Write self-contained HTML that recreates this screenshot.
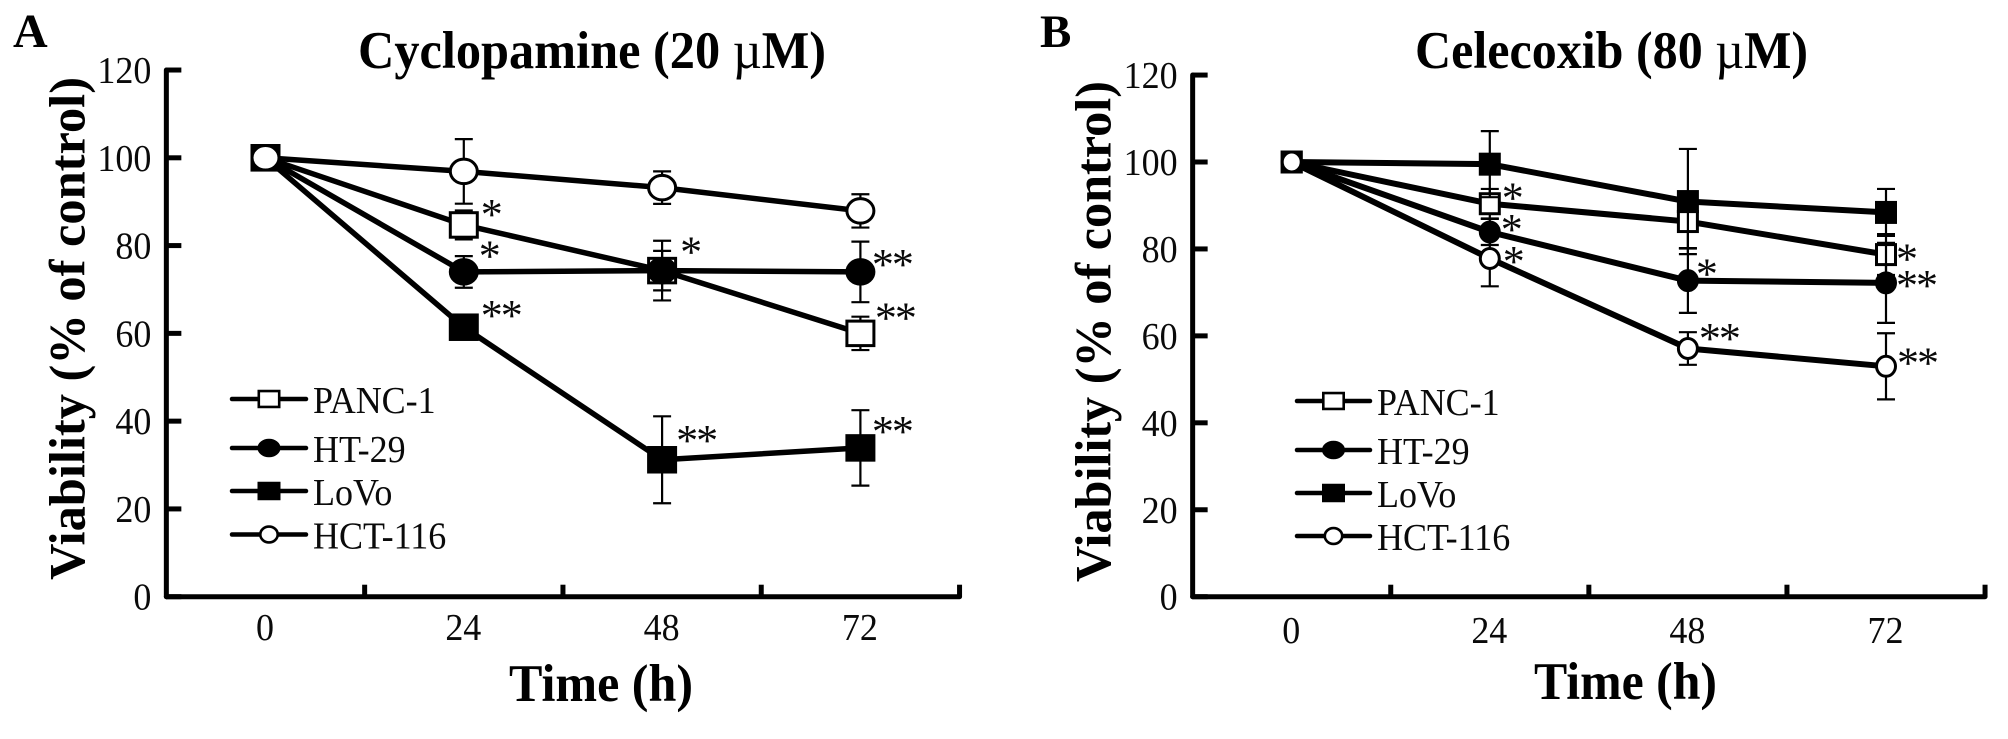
<!DOCTYPE html>
<html lang="en">
<head>
<meta charset="utf-8">
<title>Cell viability: Cyclopamine and Celecoxib</title>
<style>
html,body{margin:0;padding:0;background:#fff;width:2008px;height:739px;overflow:hidden}
svg{display:block}
text{font-family:"Liberation Serif","Noto Serif CJK SC",serif;fill:#0a0a0a}
.b{font-weight:700;fill:#000}
</style>
</head>
<body>
<svg id="figure" xmlns="http://www.w3.org/2000/svg" width="2008" height="739" viewBox="0 0 2008 739">
  <rect width="2008" height="739" fill="#fff"/>
  <text class="b" x="13" y="47" font-size="48">A</text>
  <text class="b" x="1040" y="47" font-size="47">B</text>
  <text class="b" transform="translate(358 68) scale(1 1.07)" font-size="49" textLength="468" lengthAdjust="spacingAndGlyphs">Cyclopamine (20 <tspan font-weight="400">µ</tspan>M)</text>
  <text class="b" transform="translate(1415 68) scale(1 1.07)" font-size="49" textLength="393" lengthAdjust="spacingAndGlyphs">Celecoxib (80 <tspan font-weight="400">µ</tspan>M)</text>
  <text class="b" transform="translate(509 701) scale(1 1.08)" font-size="49" textLength="184" lengthAdjust="spacingAndGlyphs">Time (h)</text>
  <text class="b" transform="translate(1534 699) scale(1 1.08)" font-size="49" textLength="183" lengthAdjust="spacingAndGlyphs">Time (h)</text>
  <text class="b" transform="translate(84.5 580) rotate(-90)" font-size="51" textLength="503" lengthAdjust="spacingAndGlyphs">Viability (% of control)</text>
  <text class="b" transform="translate(1110.5 582) rotate(-90)" font-size="51" textLength="501" lengthAdjust="spacingAndGlyphs">Viability (% of control)</text>
</svg>
<script>
// ---- chart data ----
const timePoints = [0, 24, 48, 72];
const timeTickLabels = ['0', '24', '48', '72'];
const timeAxisTicks = [-12, 12, 36, 60, 84];
const viabilityTicks = [0, 20, 40, 60, 80, 100, 120];
const seriesNames = ['PANC-1', 'HT-29', 'LoVo', 'HCT-116'];

const panelA_PANC1 = [100, 84.7, 74.3, 60.0];
const panelA_HT29 = [100, 74.0, 74.3, 74.0];
const panelA_LoVo = [100, 61.4, 31.2, 33.9];
const panelA_HCT116 = [100, 96.9, 93.2, 87.9];
const panelA_PANC1_err = [0, 3.3, 4.5, 3.8];
const panelA_HT29_err = [0, 3.6, 6.8, 6.9];
const panelA_LoVo_err = [0, 1.0, 9.9, 8.6];
const panelA_HCT116_err = [0, 7.35, 3.7, 3.8];

const panelB_PANC1 = [100, 90.4, 86.3, 78.7];
const panelB_HT29 = [100, 83.9, 72.7, 72.2];
const panelB_LoVo = [100, 99.5, 90.9, 88.4];
const panelB_HCT116 = [100, 77.8, 57.1, 53.0];
const panelB_PANC1_err = [0, 3.4, 6.1, 4.7];
const panelB_HT29_err = [0, 3.0, 7.4, 9.2];
const panelB_LoVo_err = [0, 7.6, 12.1, 5.4];
const panelB_HCT116_err = [0, 6.4, 3.75, 7.6];

// ---- drawing ----
const NS = 'http://www.w3.org/2000/svg';
const root = document.getElementById('figure');
function mk(parent, tag, attrs) {
  const el = document.createElementNS(NS, tag);
  for (const k in attrs) el.setAttribute(k, attrs[k]);
  parent.appendChild(el);
  return el;
}
function seg(parent, x1, y1, x2, y2, w, cap, name) {
  const el = mk(parent, 'line', {x1: x1, y1: y1, x2: x2, y2: y2, stroke: '#000', 'stroke-width': w, 'stroke-linecap': cap});
  
  
  return el;
}
function label(parent, str, x, y, size, anchor, name) {
  const el = mk(parent, 'text', {transform: 'translate(' + x + ' ' + y + ') scale(1 1.06)', 'font-size': size, 'text-anchor': anchor});
  el.textContent = str;
  
  
  return el;
}
function marker(parent, idx, cx, cy, w, h, sw, name) {
  const filled = idx === 1 || idx === 2;
  const square = idx === 0 || idx === 2;
  let el;
  if (square) {
    el = mk(parent, 'rect', {x: cx - w / 2 + sw / 2, y: cy - h / 2 + sw / 2, width: w - sw, height: h - sw, fill: filled ? '#000' : '#fff', stroke: '#000', 'stroke-width': sw});
  } else {
    el = mk(parent, 'ellipse', {cx: cx, cy: cy, rx: w / 2 - sw / 2, ry: h / 2 - sw / 2, fill: filled ? '#000' : '#fff', stroke: '#000', 'stroke-width': sw});
  }
  
  
  return el;
}

function drawPanel(p) {
  const g = mk(root, 'g', {});
  
  
  const x = t => p.x0 + t * p.pxPerHour;
  const y = v => p.y0 - v * p.pxPerUnit;

  // axes
  const axisLeft = x(timeAxisTicks[0]);
  const axisRight = x(timeAxisTicks[timeAxisTicks.length - 1]);
  seg(g, axisLeft, y(viabilityTicks[viabilityTicks.length - 1]), axisLeft, y(0), 5, 'round', p.id + '-y-axis');
  seg(g, axisLeft, y(0), axisRight, y(0), 5, 'round', p.id + '-x-axis');
  viabilityTicks.forEach(v => {
    seg(g, axisLeft, y(v), axisLeft + 15, y(v), 5, 'butt', p.id + '-y-tick-' + v);
    label(g, String(v), axisLeft - p.yLabelGap, y(v) + 13, 36, 'end', p.id + '-y-tick-label-' + v);
  });
  timeAxisTicks.slice(1).forEach(t => {
    seg(g, x(t), y(0), x(t), y(0) - 12, 5, 'butt', p.id + '-x-tick-' + t);
  });
  timePoints.forEach((t, i) => {
    label(g, timeTickLabels[i], x(t) - 0.5, p.xLabelBase, 36, 'middle', p.id + '-x-tick-label-' + timeTickLabels[i]);
  });

  // series, back to front
  p.series.forEach((vals, s) => {
    const sg = mk(g, 'g', {});
    
    
    timePoints.forEach((t, i) => {
      const e = p.errs[s][i];
      if (e > 0) {
        const n = p.id + '-error-bar-' + seriesNames[s].toLowerCase() + '-' + t;
        seg(sg, x(t), y(vals[i] + e), x(t), y(vals[i] - e), 2.2, 'butt', n);
        seg(sg, x(t) - 9, y(vals[i] + e), x(t) + 9, y(vals[i] + e), 2.2, 'butt', n + '-cap-top');
        seg(sg, x(t) - 9, y(vals[i] - e), x(t) + 9, y(vals[i] - e), 2.2, 'butt', n + '-cap-bottom');
      }
    });
    const path = mk(sg, 'polyline', {
      points: timePoints.map((t, i) => x(t) + ',' + y(vals[i])).join(' '),
      fill: 'none', stroke: '#000', 'stroke-width': p.lineWidth, 'stroke-linejoin': 'round'
    });
    
    
    timePoints.forEach((t, i) => {
      marker(sg, s, x(t), y(vals[i]), p.markerW, p.markerH, p.markerStroke, p.id + '-point-' + seriesNames[s].toLowerCase() + '-' + t);
    });
  });

  // significance marks, anchored to the data point they annotate
  p.notes(function (str, s, i, dx, dy) {
    const el = mk(g, 'text', {x: x(timePoints[i]) + dx, y: y(p.series[s][i]) + dy + 21, 'font-size': 44, 'letter-spacing': str.length > 1 ? -2 : 0, 'text-anchor': 'middle'});
    el.textContent = str;
    
    
  });

  // legend
  const lg = mk(g, 'g', {});
  
  
  seriesNames.forEach((name, s) => {
    const ly = p.legendRows[s];
    seg(lg, p.legendX1, ly, p.legendX2, ly, 4.5, 'round', p.id + '-legend-line-' + name.toLowerCase());
    const mw = s === 3 ? 20 : 23;
    marker(lg, s, (p.legendX1 + p.legendX2) / 2, ly, mw, 18.5, 2.6, p.id + '-legend-marker-' + name.toLowerCase());
    label(lg, name, p.legendX2 + 7, ly + 14, 36, 'start', p.id + '-legend-label-' + name.toLowerCase());
  });
}

drawPanel({
  id: 'panel-a', x0: 265.5, pxPerHour: 198.3 / 24, y0: 596.7, pxPerUnit: 4.389,
  yLabelGap: 15, xLabelBase: 640, lineWidth: 5.5, markerW: 30, markerH: 27.5, markerStroke: 3,
  series: [panelA_PANC1, panelA_HT29, panelA_LoVo, panelA_HCT116],
  errs: [panelA_PANC1_err, panelA_HT29_err, panelA_LoVo_err, panelA_HCT116_err],
  legendX1: 232, legendX2: 306, legendRows: [399, 448, 491, 534.5],
  notes: function (star) {
    star('*', 0, 1, 28, -17);
    star('*', 1, 1, 26, -22.5);
    star('**', 2, 1, 37, -18);
    star('*', 1, 2, 29, -25);
    star('**', 2, 2, 34, -26);
    star('**', 1, 3, 31.5, -14);
    star('**', 0, 3, 34.5, -22);
    star('**', 2, 3, 31.5, -23);
  }
});

drawPanel({
  id: 'panel-b', x0: 1291.7, pxPerHour: 198.1 / 24, y0: 596.7, pxPerUnit: 4.347,
  yLabelGap: 15, xLabelBase: 643, lineWidth: 6, markerW: 22, markerH: 23, markerStroke: 3,
  series: [panelB_PANC1, panelB_HT29, panelB_LoVo, panelB_HCT116],
  errs: [panelB_PANC1_err, panelB_HT29_err, panelB_LoVo_err, panelB_HCT116_err],
  legendX1: 1297, legendX2: 1370, legendRows: [401, 450, 493, 536],
  notes: function (star) {
    star('*', 0, 1, 23, -12);
    star('*', 1, 1, 22, -9);
    star('*', 3, 1, 24, -3.5);
    star('*', 1, 2, 19, -13);
    star('**', 3, 2, 31, -16.5);
    star('*', 0, 3, 21, -2);
    star('**', 1, 3, 30, -4);
    star('**', 3, 3, 31, -10);
  }
});
</script>
</body>
</html>
